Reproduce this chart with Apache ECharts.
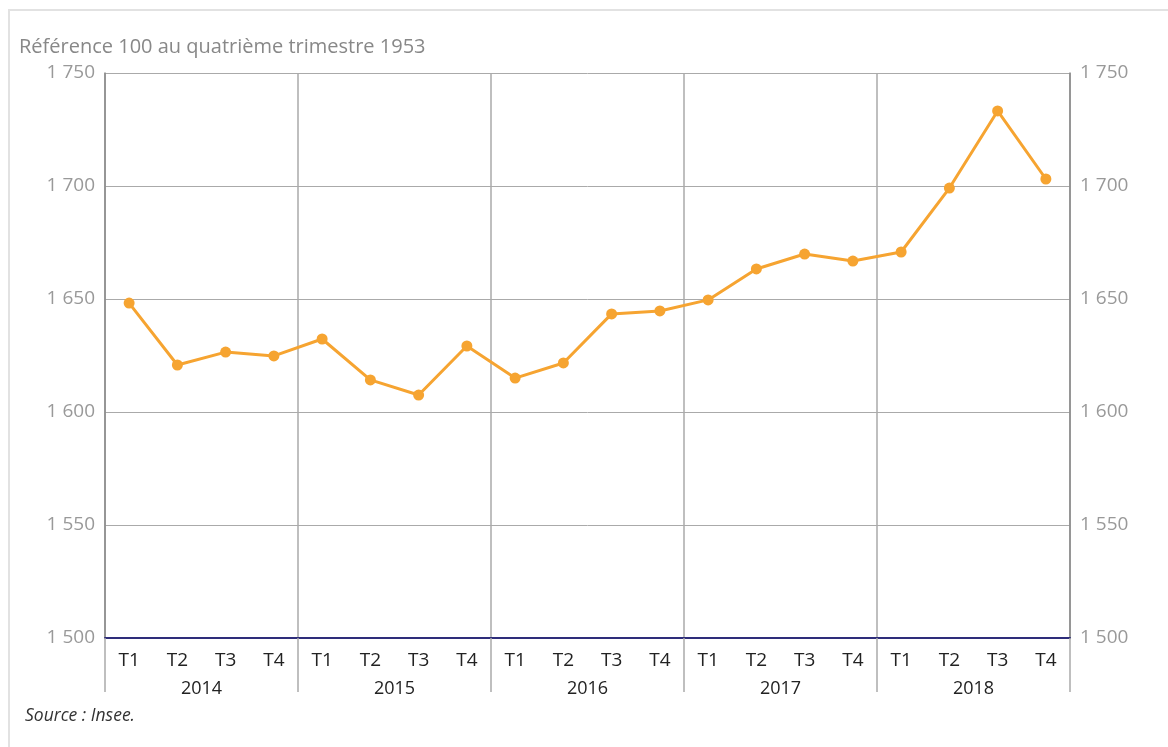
<!DOCTYPE html>
<html><head><meta charset="utf-8">
<script src="https://cdn.jsdelivr.net/npm/echarts@6/dist/echarts.min.js"></script>
<style>html,body{margin:0;padding:0;background:#fff}#c{width:1168px;height:747px}</style>
</head><body><div id="c"></div>
<script>
const quarters = ['T1','T2','T3','T4','T1','T2','T3','T4','T1','T2','T3','T4','T1','T2','T3','T4','T1','T2','T3','T4'];
const years = ['2014','2015','2016','2017','2018'];
const values = [1648.2,1620.8,1626.5,1624.8,1632.3,1614.2,1607.5,1629.2,1615.0,1621.7,1643.4,1644.7,1649.6,1663.3,1669.9,1666.8,1670.8,1699.1,1733.2,1703.1];
const subtitle = 'Référence 100 au quatrième trimestre 1953';
const source = 'Source : Insee.';

const fmt = v => { const s = String(Math.round(v)); return s.length > 3 ? s.slice(0, s.length-3) + ' ' + s.slice(-3) : s; };
const font = '"Open Sans", "Noto Sans", sans-serif';
const chart = echarts.init(document.getElementById('c'));
const yCommon = {
  type: 'value', min: 1500, max: 1750, interval: 50,
  axisLine: { show: true, lineStyle: { color: '#888', width: 1.5 } },
  axisTick: { show: false },
  splitLine: { show: true, lineStyle: { color: '#aaa', width: 1 } },
  axisLabel: { formatter: fmt, color: '#999', fontSize: 19, fontFamily: font, margin: 10 }
};
chart.setOption({
  animation: false,
  textStyle: { fontFamily: font },
  graphic: [
    { type: 'rect', shape: { x: 9, y: 10, width: 1200, height: 800 }, style: { fill: null, stroke: '#e2e2e2', lineWidth: 2 } },
    { type: 'text', left: 19, top: 37, style: { text: subtitle, fill: '#888', fontSize: 20, fontFamily: font } },
    { type: 'text', left: 25, top: 707, style: { text: source, fill: '#333', fontSize: 17.5, fontStyle: 'italic', fontFamily: font } }
  ],
  grid: { left: 105, right: 98, top: 73, bottom: 109, containLabel: false },
  xAxis: [
    { type: 'category', data: quarters, position: 'bottom', boundaryGap: true,
      axisLine: { show: true, lineStyle: { color: '#2e2d7a', width: 2 } },
      axisTick: { show: false }, splitLine: { show: false },
      axisLabel: { color: '#222', fontSize: 19, fontFamily: font, margin: 13, interval: 0 } },
    { type: 'category', data: years, position: 'bottom', boundaryGap: true,
      axisLine: { show: false },
      axisTick: { show: true, length: 54, lineStyle: { color: '#aaa', width: 1.5 } },
      splitLine: { show: true, lineStyle: { color: '#aaa', width: 1.5 } },
      axisLabel: { color: '#222', fontSize: 18, fontFamily: font, margin: 42, interval: 0 } }
  ],
  yAxis: [
    Object.assign({}, yCommon, { position: 'left' }),
    Object.assign({}, yCommon, { position: 'right', splitLine: { show: false } })
  ],
  series: [{
    type: 'line', data: values, xAxisIndex: 0, yAxisIndex: 0,
    symbol: 'circle', symbolSize: 11,
    lineStyle: { color: '#f6a431', width: 3 },
    itemStyle: { color: '#f6a431' },
    z: 5
  }]
});
</script></body></html>
